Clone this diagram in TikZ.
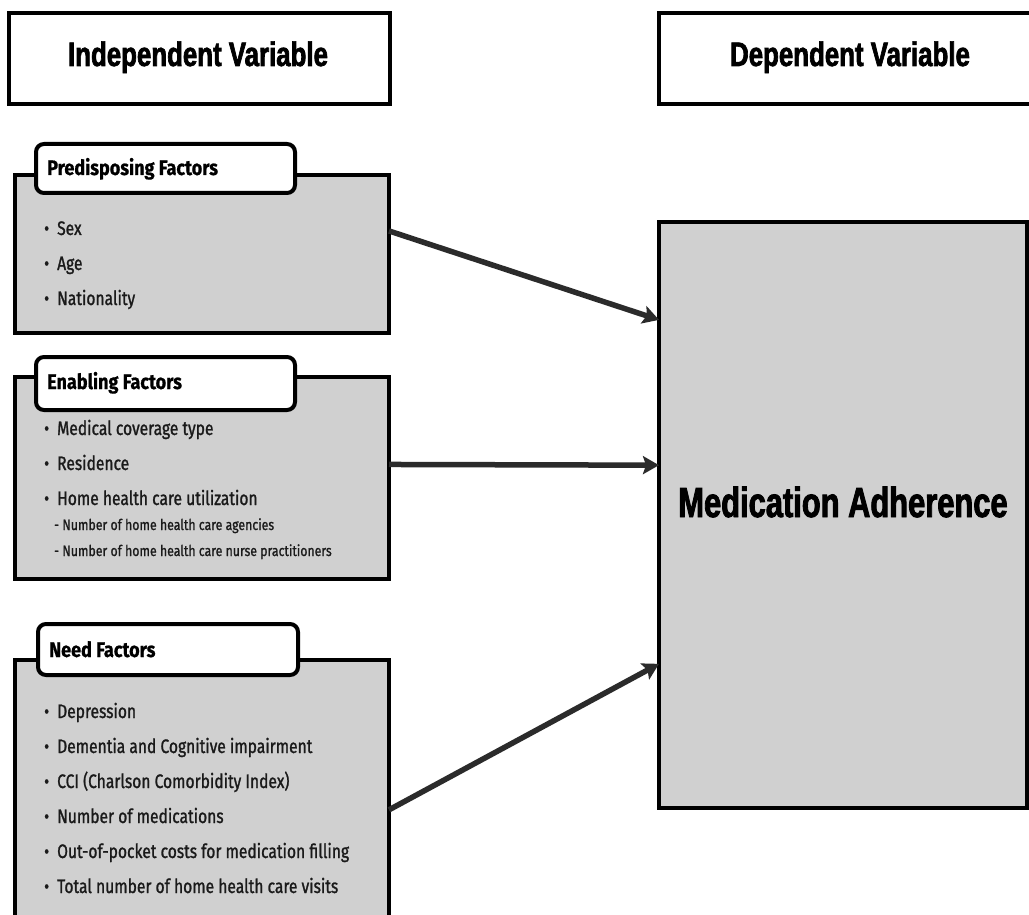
\documentclass[tikz,border=0pt]{standalone}
\usepackage{fontspec}
\usetikzlibrary{arrows.meta,calc}
\newfontfamily\ttlfont[FakeStretch=0.76,FakeBold=2]{Liberation Sans Bold}
\newfontfamily\medfont[FakeStretch=0.735,FakeBold=2]{Liberation Sans Bold}
\newfontfamily\itmfont[FakeStretch=0.80,FakeBold=1.2]{Fira Sans}
\newfontfamily\subfont[FakeStretch=0.82,FakeBold=1]{Fira Sans}
\newfontfamily\hdrfont[FakeStretch=0.86,FakeBold=0.8]{Fira Sans Bold}
\definecolor{boxgray}{HTML}{D0D0D0}
\definecolor{arrowgray}{HTML}{2B2B2B}
\definecolor{txtdark}{HTML}{1A1A1A}
\newcommand{\bul}{\makebox[13pt][l]{\fontsize{19}{19}\selectfont •}}
\begin{document}
\begin{tikzpicture}[x=1pt,y=-1pt,
  varbox/.style={draw=black,line width=4pt,fill=white,inner sep=0pt,outer sep=0pt},
  graybox/.style={draw=black,line width=4pt,fill=boxgray,inner sep=0pt,outer sep=0pt},
  labelbox/.style={draw=black,line width=4pt,fill=white,rounded corners=8pt,inner sep=0pt,outer sep=0pt},
  vartext/.style={anchor=base,inner sep=0pt,font=\ttlfont\fontsize{34}{34}\selectfont},
  hdrtext/.style={anchor=base west,inner sep=0pt,font=\hdrfont\fontsize{21}{21}\selectfont},
  itemtext/.style={anchor=base west,inner sep=0pt,text=txtdark,font=\itmfont\fontsize{19.5}{19.5}\selectfont},
  subtext/.style={anchor=base west,inner sep=0pt,text=txtdark,font=\subfont\fontsize{15}{15}\selectfont},
  flow/.style={draw=arrowgray,line width=5.5pt,-{Stealth[length=16pt,width=18pt,inset=3pt]}}]
\clip (0,0) rectangle (1029,915);
\fill[white] (0,0) rectangle (1029,915);

% top variable boxes
\node[varbox,minimum width=381pt,minimum height=91pt] (ind) at (199.5,58.5) {};
\node[vartext] (indt) at (198,66) {Independent Variable};
\node[varbox,minimum width=372pt,minimum height=91pt] (dep) at (845,58.5) {};
\node[vartext] (dept) at (850,66) {Dependent Variable};

% predisposing
\node[graybox,minimum width=374pt,minimum height=158pt] (pre) at (202,254) {};
\node[labelbox,minimum width=259pt,minimum height=49pt] (prel) at (165.5,168.5) {};
\node[hdrtext] (prelt) at (47,175) {Predisposing Factors};
\node[itemtext] (p1) at (44,235) {\bul Sex};
\node[itemtext] (p2) at (44,270) {\bul Age};
\node[itemtext] (p3) at (44,305) {\bul Nationality};

% enabling
\node[graybox,minimum width=374pt,minimum height=202pt] (ena) at (202,478) {};
\node[labelbox,minimum width=259pt,minimum height=53pt] (enal) at (165.5,383.5) {};
\node[hdrtext] (enalt) at (47,389) {Enabling Factors};
\node[itemtext] (e1) at (44,435) {\bul Medical coverage type};
\node[itemtext] (e2) at (44,470) {\bul Residence};
\node[itemtext] (e3) at (44,505) {\bul Home health care utilization};
\node[subtext] (e4) at (54,530) {- Number of home health care agencies};
\node[subtext] (e5) at (54,556) {- Number of home health care nurse practitioners};

% need
\node[graybox,minimum width=374pt,minimum height=270pt] (need) at (202,795) {};
\node[labelbox,minimum width=260pt,minimum height=51pt] (needl) at (168,649.5) {};
\node[hdrtext] (needlt) at (49,657) {Need Factors};
\node[itemtext] (n1) at (44,718) {\bul Depression};
\node[itemtext] (n2) at (44,753) {\bul Dementia and Cognitive impairment};
\node[itemtext] (n3) at (44,788) {\bul CCI (Charlson Comorbidity Index)};
\node[itemtext] (n4) at (44,823) {\bul Number of medications};
\node[itemtext] (n5) at (44,858) {\bul Out-of-pocket costs for medication filling};
\node[itemtext] (n6) at (44,893) {\bul Total number of home health care visits};

% medication adherence
\node[graybox,minimum width=368pt,minimum height=586pt] (med) at (843,515) {};
\node[inner sep=0pt,font=\medfont\fontsize{42}{42}\selectfont] (medt) at (843,502) {Medication Adherence};

% arrows
\coordinate (s1) at ($(pre.north east)!0.354!(pre.south east)$);
\coordinate (s2) at ($(ena.north east)!0.433!(ena.south east)$);
\coordinate (s3) at ($(need.north east)!0.555!(need.south east)$);
\coordinate (t1) at ($(med.north west)!0.167!(med.south west)$);
\coordinate (t2) at ($(med.north west)!0.415!(med.south west)$);
\coordinate (t3) at ($(med.north west)!0.754!(med.south west)$);
\draw[flow] (s1) -- (t1);
\draw[flow] (s2) -- (t2);
\draw[flow] (s3) -- (t3);
\end{tikzpicture}
\end{document}
